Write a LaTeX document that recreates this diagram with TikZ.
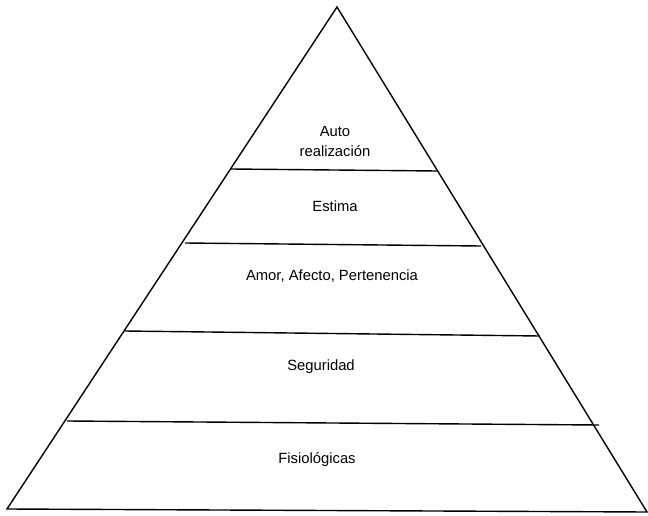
\documentclass[tikz,border=0pt]{standalone}
\usepackage{fontspec}
\setmainfont{Liberation Sans}
\begin{document}
\begin{tikzpicture}[x=1pt,y=-1pt,
  edge/.style={line width=1.4pt,line join=miter,black},
  band/.style={line width=1.4pt,black},
  lbl/.style={font=\fontsize{14.8}{20}\selectfont,align=center,inner sep=0pt}]
\useasboundingbox (0,0) rectangle (648,516);
\coordinate (apex) at (337,7);
\coordinate (bl) at (7,509);
\coordinate (br) at (647,512);
\coordinate (l1) at (231,169); \coordinate (r1) at (437,171);
\coordinate (l2) at (185,243); \coordinate (r2) at (481,246);
\coordinate (l3) at (125,331); \coordinate (r3) at (540,336);
\coordinate (l4) at (67,421);  \coordinate (r4) at (599,425);
\draw[edge] (bl) -- (apex) -- (br) -- cycle;
\draw[band] (l1) -- (r1);
\draw[band] (l2) -- (r2);
\draw[band] (l3) -- (r3);
\draw[band] (l4) -- (r4);
\node[lbl] (auto) at (335,141) {Auto\\realización};
\node[lbl] (est) at (335,206) {Estima};
\node[lbl] (amor) at (332,276) {Amor, Afecto, Pertenencia};
\node[lbl] (seg) at (321,367) {Seguridad};
\node[lbl] (fis) at (317,460) {Fisiológicas};
\end{tikzpicture}
\end{document}
